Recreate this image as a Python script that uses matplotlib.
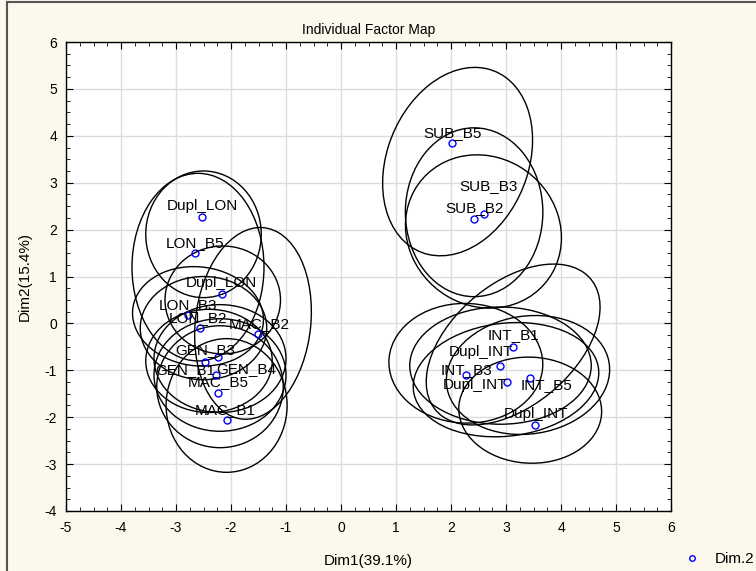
import matplotlib
matplotlib.use('Agg')
import matplotlib.pyplot as plt
from matplotlib.patches import Ellipse
from matplotlib.lines import Line2D

plt.rcParams['font.family'] = ['Liberation Sans', 'DejaVu Sans']
plt.rcParams['axes.unicode_minus'] = False

# individuals (Dim1, Dim2)
names = ['Dupl_LON', 'LON_B5', 'Dupl_LON', 'LON_B3', 'LON_B2', 'MAC_B2',
         'GEN_B3', 'GEN_B1', 'GEN_B4', 'MAC_B5', 'MAC_B1',
         'SUB_B5', 'SUB_B3', 'SUB_B2',
         'INT_B1', 'Dupl_INT', 'INT_B3', 'Dupl_INT', 'INT_B5', 'Dupl_INT']
dim1 = [-2.52, -2.65, -2.17, -2.79, -2.56, -1.51,
        -2.24, -2.47, -2.28, -2.23, -2.08,
        2.02, 2.60, 2.42,
        3.13, 2.89, 2.27, 3.02, 3.44, 3.53]
dim2 = [2.26, 1.51, 0.62, 0.18, -0.10, -0.22,
        -0.72, -0.82, -1.11, -1.48, -2.06,
        3.85, 2.34, 2.22,
        -0.50, -0.91, -1.09, -1.26, -1.17, -2.17]

# confidence ellipses: centre, full width, full height, angle
ell_cx = [-2.50, -2.60, -2.15, -2.60, -2.50, -1.60,
          -2.20, -2.40, -2.20, -2.20, -2.08,
          2.12, 2.42, 2.59,
          3.13, 2.90, 2.27, 3.00, 3.40, 3.44]
ell_cy = [1.90, 1.20, 0.50, 0.15, -0.10, 0.00,
          -0.75, -0.80, -1.10, -1.35, -1.75,
          3.45, 2.37, 1.96,
          -0.45, -0.90, -0.85, -1.20, -1.10, -1.85]
ell_w = [2.1, 2.4, 2.1, 2.4, 2.3, 2.1,
         2.4, 2.3, 2.4, 2.3, 2.2,
         2.6, 2.5, 2.8,
         4.0, 3.3, 2.8, 3.4, 3.0, 2.6]
ell_h = [2.7, 4.0, 2.3, 2.1, 2.2, 4.1,
         2.3, 2.2, 2.4, 2.6, 2.85,
         4.1, 3.6, 3.3,
         2.4, 2.5, 2.55, 2.4, 2.5, 2.26]
ell_ang = [0, 0, 0, -15, 0, -5,
           0, 0, 0, 0, 0,
           -15, 0, 15,
           50, 0, -5, 10, 15, -5]

# label offsets (pixels) from each point
lab_dx = [0, 0, 0, 0, -2, 1, -13, -20, 31, 0, -1, 0, 5, 0, 0, -19, 1, -32, 16, 1]
lab_dy = [11, 10, 11, 10, 10, 10, 7, -8, 6, 11, 10, 10, 28, 11, 12, 14, 5, -3, -7, 11]

fig = plt.figure(figsize=(7.56, 5.71), dpi=100, facecolor='#fdf8ec')
ax = fig.add_axes([66/756, 1-511/571, 605/756, 469/571])
ax.set_facecolor('white')

for i in range(len(ell_cx)):
    e = Ellipse((ell_cx[i], ell_cy[i]), ell_w[i], ell_h[i], angle=ell_ang[i],
                fill=False, edgecolor='black', lw=1.0, zorder=2)
    ax.add_patch(e)

ax.plot(dim1, dim2, 'o', mfc='none', mec='blue', ms=5, mew=1.0, zorder=3, label='Dim.2')

for i in range(len(names)):
    ax.annotate(names[i], (dim1[i], dim2[i]), xytext=(lab_dx[i], lab_dy[i]),
                textcoords='offset pixels', ha='center', va='center',
                fontsize=11, zorder=4)

ax.set_xlim(-5, 6)
ax.set_ylim(-4, 6)
ax.set_xticks(range(-5, 7))
ax.set_yticks(range(-4, 7))
ax.set_xticks([x/4 for x in range(-20, 25)], minor=True)
ax.set_yticks([y/4 for y in range(-16, 25)], minor=True)
ax.grid(True, which='major', color='#dcdcdc', lw=1.0, zorder=0)
ax.set_axisbelow(True)
ax.tick_params(which='both', direction='in', top=True, right=True, labelsize=10)
ax.tick_params(which='major', length=5)
ax.tick_params(which='minor', length=3)
ax.tick_params(axis='x', pad=7)
ax.tick_params(axis='y', pad=6.5)
for s in ax.spines.values():
    s.set_linewidth(1.0)

ax.set_title('Individual Factor Map', fontsize=10, pad=5.5)
ax.set_xlabel('Dim1(39.1%)', fontsize=11, labelpad=14)
ax.set_ylabel('Dim2(15.4%)', fontsize=11, labelpad=9)

ax.legend(loc='center left', bbox_to_anchor=(684/756, 1-559/571), bbox_transform=fig.transFigure,
          frameon=False, fontsize=11, handlelength=1, handletextpad=1,
          borderpad=0, borderaxespad=0, markerscale=0.8)

# window border
fig.add_artist(Line2D([7/756, 7/756], [0, 1-2/571], color='#555555', lw=1.5))
fig.add_artist(Line2D([7/756, 1], [1-2/571, 1-2/571], color='#555555', lw=1.5))

fig.savefig('out.png', dpi=100, facecolor=fig.get_facecolor())
